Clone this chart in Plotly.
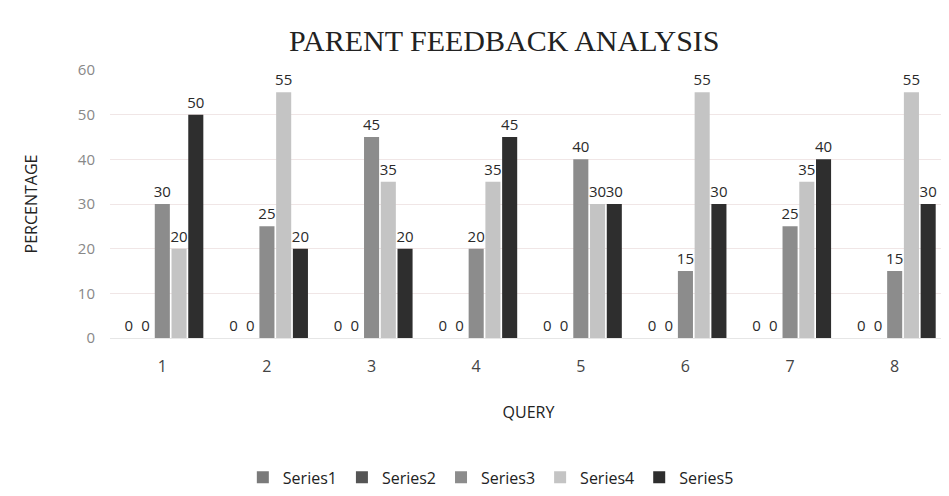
import plotly.graph_objects as go

queries = ["1", "2", "3", "4", "5", "6", "7", "8"]
series1 = [0, 0, 0, 0, 0, 0, 0, 0]
series2 = [0, 0, 0, 0, 0, 0, 0, 0]
series3 = [30, 25, 45, 20, 40, 15, 25, 15]
series4 = [20, 55, 35, 35, 30, 55, 35, 55]
series5 = [50, 20, 20, 45, 30, 30, 40, 30]

names = ["Series1", "Series2", "Series3", "Series4", "Series5"]
colors = ["#7a7a7a", "#555555", "#8c8c8c", "#c4c4c4", "#2e2e2e"]
data = [series1, series2, series3, series4, series5]

fig = go.Figure()
for name, vals, col in zip(names, data, colors):
    fig.add_trace(go.Bar(
        x=queries, y=vals, name=name, marker=dict(color=col, line=dict(width=0)),
        text=[str(v) for v in vals], textposition="outside", cliponaxis=False,
        constraintext="none",
        textfont=dict(family="Open Sans, sans-serif", size=15, color="#2a2a2a"),
    ))

fig.update_layout(
    width=949, height=496,
    paper_bgcolor="white", plot_bgcolor="white",
    barmode="group", bargap=0.2, bargroupgap=0.1,
    title=dict(text="PARENT FEEDBACK ANALYSIS", x=0.523, xanchor="center", xref="container",
               y=0.935, yanchor="middle",
               font=dict(family="Liberation Serif, serif", size=30, color="#222222")),
    margin=dict(l=102, r=10, t=62, b=162),
    xaxis=dict(title=dict(text="QUERY", font=dict(family="Open Sans, sans-serif", size=16, color="#222222"), standoff=30),
               tickfont=dict(family="Open Sans, sans-serif", size=16, color="#444444"),
               ticklabelstandoff=14,
               showline=True, linecolor="#e6e6e6", ticks=""),
    yaxis=dict(title=dict(text="PERCENTAGE", font=dict(family="Open Sans, sans-serif", size=16, color="#222222"), standoff=36),
               range=[0, 60], dtick=10, tickfont=dict(family="Open Sans, sans-serif", size=15, color="#888888"),
               ticklabelstandoff=14,
               showgrid=True, gridcolor="#f0e6e6", zeroline=False),
    legend=dict(orientation="h", x=0.455, xanchor="center", y=-0.52, yanchor="middle",
                font=dict(family="Open Sans, sans-serif", size=16, color="#222222"),
                itemwidth=30),
    showlegend=True,
)

fig.write_html("out.html")
